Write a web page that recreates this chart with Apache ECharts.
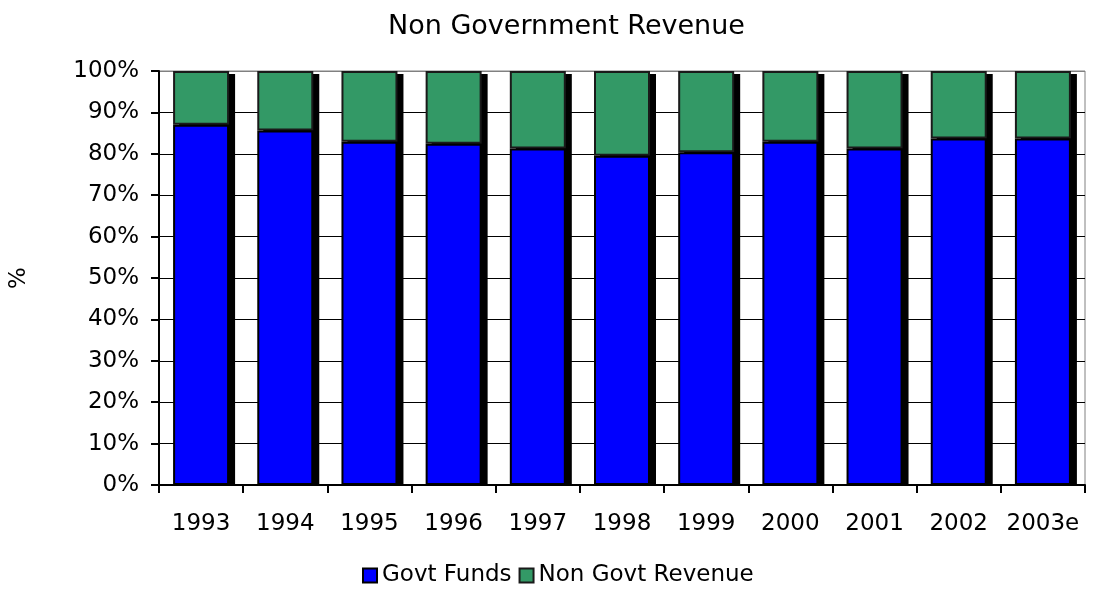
<!DOCTYPE html>
<html>
<head>
<meta charset="utf-8">
<script src="https://cdn.jsdelivr.net/npm/echarts@6/dist/echarts.min.js"></script>
<style>
  html, body { margin: 0; padding: 0; background: #fff; }
  #chart { width: 1093px; height: 596px; }
</style>
</head>
<body>
<div id="chart"></div>
<script>
var years = ['1993', '1994', '1995', '1996', '1997', '1998', '1999', '2000', '2001', '2002', '2003e'];
var govtFunds = [87.0, 85.6, 82.9, 82.4, 81.3, 79.5, 80.4, 82.9, 81.3, 83.7, 83.7];
var nonGovtRevenue = [13.0, 14.4, 17.1, 17.6, 18.7, 20.5, 19.6, 17.1, 18.7, 16.3, 16.3];

var FONT = '"DejaVu Sans", Verdana, sans-serif';
var BAR_W = 56;

var chart = echarts.init(document.getElementById('chart'));

// top gridline doubles as the grey plot border
var gridColors = ['#000', '#000', '#000', '#000', '#000', '#000', '#000', '#000', '#000', '#000', '#808080'];

// black drop shadow behind each stacked column (right + slightly down)
function renderShadow(params, api) {
  var top = api.coord([api.value(0), 100]);
  var bottom = api.coord([api.value(0), 0]);
  return {
    type: 'rect',
    shape: { x: top[0] - BAR_W / 2 + 6, y: top[1] + 3, width: BAR_W, height: bottom[1] - top[1] - 3 },
    style: { fill: '#000' }
  };
}

var option = {
  animation: false,
  title: {
    text: 'Non Government Revenue',
    left: 383,
    top: 8,
    textStyle: { fontFamily: FONT, fontSize: 27, fontWeight: 'normal', color: '#000' }
  },
  legend: {
    bottom: 4,
    left: 357,
    itemWidth: 14,
    itemHeight: 14,
    itemGap: 7,
    icon: 'rect',
    textStyle: { fontFamily: FONT, fontSize: 23, color: '#000' },
    data: ['Govt Funds', 'Non Govt Revenue']
  },
  grid: { left: 159, right: 8, top: 71, bottom: 111, show: true, borderColor: '#808080', borderWidth: 1, outerBoundsMode: 'none' },
  xAxis: {
    type: 'category',
    data: years,
    axisLine: { lineStyle: { color: '#000', width: 2 } },
    axisTick: { show: true, length: 8, alignWithLabel: false, lineStyle: { color: '#000', width: 2 } },
    axisLabel: { interval: 0, fontFamily: FONT, fontSize: 23, color: '#000', margin: 28 }
  },
  yAxis: {
    type: 'value',
    min: 0,
    max: 100,
    interval: 10,
    name: '%',
    nameLocation: 'middle',
    nameRotate: 90,
    nameGap: 128,
    nameTextStyle: { fontFamily: FONT, fontSize: 23, color: '#000' },
    axisLine: { show: true, lineStyle: { color: '#000', width: 2 } },
    axisTick: { show: true, length: 8, lineStyle: { color: '#000', width: 2 } },
    axisLabel: { fontFamily: FONT, fontSize: 23, color: '#000', margin: 20, formatter: '{value}%' },
    splitLine: { show: true, lineStyle: { color: gridColors, width: 1 } }
  },
  series: [
    {
      name: 'shadow',
      type: 'custom',
      z: 1,
      silent: true,
      renderItem: renderShadow,
      data: years.map(function (y, i) { return [i]; })
    },
    {
      name: 'Govt Funds',
      type: 'bar',
      stack: 'total',
      barWidth: BAR_W,
      z: 3,
      data: govtFunds,
      itemStyle: { color: '#0000ff', borderColor: '#000', borderWidth: 2 }
    },
    {
      name: 'Non Govt Revenue',
      type: 'bar',
      stack: 'total',
      barWidth: BAR_W,
      z: 2,
      data: nonGovtRevenue,
      itemStyle: { color: '#339966', borderColor: '#1a1a1a', borderWidth: 2 }
    }
  ]
};

chart.setOption(option);
</script>
</body>
</html>
